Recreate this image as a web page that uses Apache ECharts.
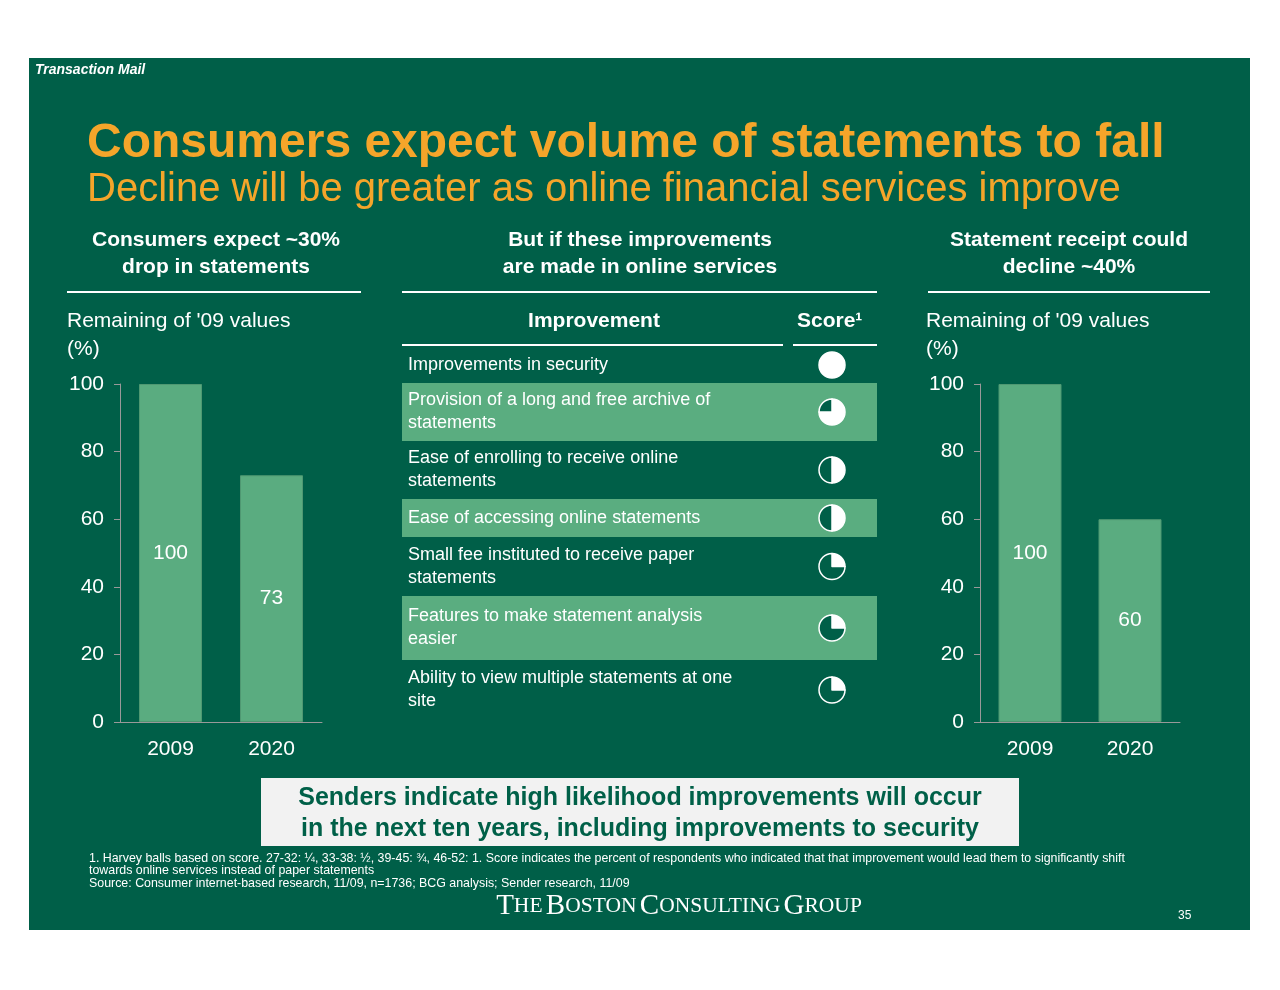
<!DOCTYPE html>
<html><head><meta charset="utf-8">
<script src="https://cdn.jsdelivr.net/npm/echarts@6/dist/echarts.min.js"></script>
<style>html,body{margin:0;background:#fff}#c{width:1280px;height:990px}</style>
</head><body><div id="c"></div>
<script>
const years = ['2009', '2020'];
const leftValues = [100, 73];
const rightValues = [100, 60];
const improvements = [
  'Improvements in security',
  'Provision of a long and free archive of\nstatements',
  'Ease of enrolling to receive online\nstatements',
  'Ease of accessing online statements',
  'Small fee instituted to receive paper\nstatements',
  'Features to make statement analysis\neasier',
  'Ability to view multiple statements at one\nsite'
];
const scores = [1, 0.75, 0.5, 0.5, 0.25, 0.25, 0.25];

const BG = '#005f48', BAR = '#5aac80', WHITE = '#fff', FONT = 'Liberation Sans, Arial, sans-serif';
const rowTops = [347, 383, 441, 499, 537, 596, 660, 720];
const chart = echarts.init(document.getElementById('c'));
const g = [];
g.push({type:'rect', shape:{x:29,y:58,width:1221,height:872}, style:{fill:BG}, z:-10});
function txt(x,y,t,o){g.push({type:'text',x:x,y:y,style:Object.assign({text:t,fill:WHITE,font:'17px '+FONT},o||{})});}
txt(35,63,'Transaction Mail',{font:'italic bold 14px '+FONT});
txt(87,120,'Consumers expect volume of statements to fall',{fill:'#f5a52a',font:'bold 48px '+FONT});
txt(87,170,'Decline will be greater as online financial services improve',{fill:'#f5a52a',font:'40px '+FONT});
txt(216,227,"Consumers expect ~30%\ndrop in statements",{font:'bold 21px '+FONT,align:'center',lineHeight:27});
txt(640,227,"But if these improvements\nare made in online services",{font:'bold 21px '+FONT,align:'center',lineHeight:27});
txt(1069,227,"Statement receipt could\ndecline ~40%",{font:'bold 21px '+FONT,align:'center',lineHeight:27});
[[67,361],[402,877],[928,1210]].forEach(function(p){g.push({type:'rect',shape:{x:p[0],y:291,width:p[1]-p[0],height:2},style:{fill:WHITE}});});
txt(67,307,"Remaining of '09 values\n(%)",{font:'21px '+FONT,lineHeight:28});
txt(926,307,"Remaining of '09 values\n(%)",{font:'21px '+FONT,lineHeight:28});
txt(594,311,'Improvement',{font:'bold 21px '+FONT,align:'center'});
txt(797,311,'Score¹',{font:'bold 21px '+FONT});
g.push({type:'rect',shape:{x:402,y:344,width:381,height:2},style:{fill:WHITE}});
g.push({type:'rect',shape:{x:793,y:344,width:84,height:2},style:{fill:WHITE}});
improvements.forEach(function(t,i){
  const top=rowTops[i], h=rowTops[i+1]-top;
  if(i%2===1) g.push({type:'rect',shape:{x:402,y:top,width:475,height:h},style:{fill:'#5aad80'},z:-5});
  g.push({type:'text',x:408,y:top+h/2,style:{text:t,fill:WHITE,font:'18px '+FONT,verticalAlign:'middle',lineHeight:23}});
});
g.push({type:'rect',shape:{x:261,y:778,width:758,height:68},style:{fill:'#f2f2f2'}});
txt(640,783,'Senders indicate high likelihood improvements will occur\nin the next ten years, including improvements to security',{fill:'#006048',font:'bold 25px '+FONT,align:'center',lineHeight:31});
txt(89,852,'1. Harvey balls based on score. 27-32: ¼, 33-38: ½, 39-45: ¾, 46-52: 1. Score indicates the percent of respondents who indicated that that improvement would lead them to significantly shift\ntowards online services instead of paper statements\nSource: Consumer internet-based research, 11/09, n=1736; BCG analysis; Sender research, 11/09',{font:'12.4px '+FONT,lineHeight:12.5});
g.push({type:'text',x:679,y:892,style:{align:'center',fill:WHITE,
  text:'{b|T}{s|HE} {b|B}{s|OSTON} {b|C}{s|ONSULTING} {b|G}{s|ROUP}',
  rich:{b:{fontSize:29,fontFamily:'Liberation Serif, serif',fill:WHITE,color:WHITE},s:{fontSize:21.5,fontFamily:'Liberation Serif, serif',fill:WHITE,color:WHITE}}}});
txt(1178,910,'35',{font:'12px '+FONT});

const pies = scores.map(function(s,i){
  const cy=(rowTops[i]+rowTops[i+1])/2;
  return {type:'pie',center:[832,cy],radius:[0,13],startAngle:90,clockwise:true,silent:true,label:{show:false},labelLine:{show:false},
    itemStyle:{borderColor:WHITE,borderWidth:1.5},
    data:[{value:s,itemStyle:{color:WHITE}},{value:1-s,itemStyle:{color:BG}}].filter(function(d){return d.value>0;})};
});
function axes(idx){
  return {
    x:{gridIndex:idx,type:'category',data:years,axisLine:{lineStyle:{color:'#999'}},axisTick:{show:false},axisLabel:{color:WHITE,fontSize:21,fontFamily:FONT,margin:17}},
    y:{gridIndex:idx,type:'value',min:0,max:100,interval:20,axisLine:{show:true,lineStyle:{color:'#999'}},axisTick:{show:true,length:6,lineStyle:{color:'#999'}},splitLine:{show:false},axisLabel:{color:WHITE,fontSize:21,fontFamily:FONT,margin:16}}
  };
}
const a0=axes(0), a1=axes(1);
function bars(idx,vals){return {type:'bar',xAxisIndex:idx,yAxisIndex:idx,data:vals,barWidth:63,itemStyle:{color:BAR,borderColor:'#4f9872',borderWidth:1},label:{show:true,position:'inside',color:WHITE,fontSize:21,fontFamily:FONT},silent:true};}
chart.setOption({
  animation:false,
  grid:[{left:120,top:384,width:202,height:338},{left:980,top:384,width:200,height:338}],
  xAxis:[a0.x,a1.x], yAxis:[a0.y,a1.y],
  series:[bars(0,leftValues),bars(1,rightValues)].concat(pies),
  graphic:g
});
</script></body></html>
